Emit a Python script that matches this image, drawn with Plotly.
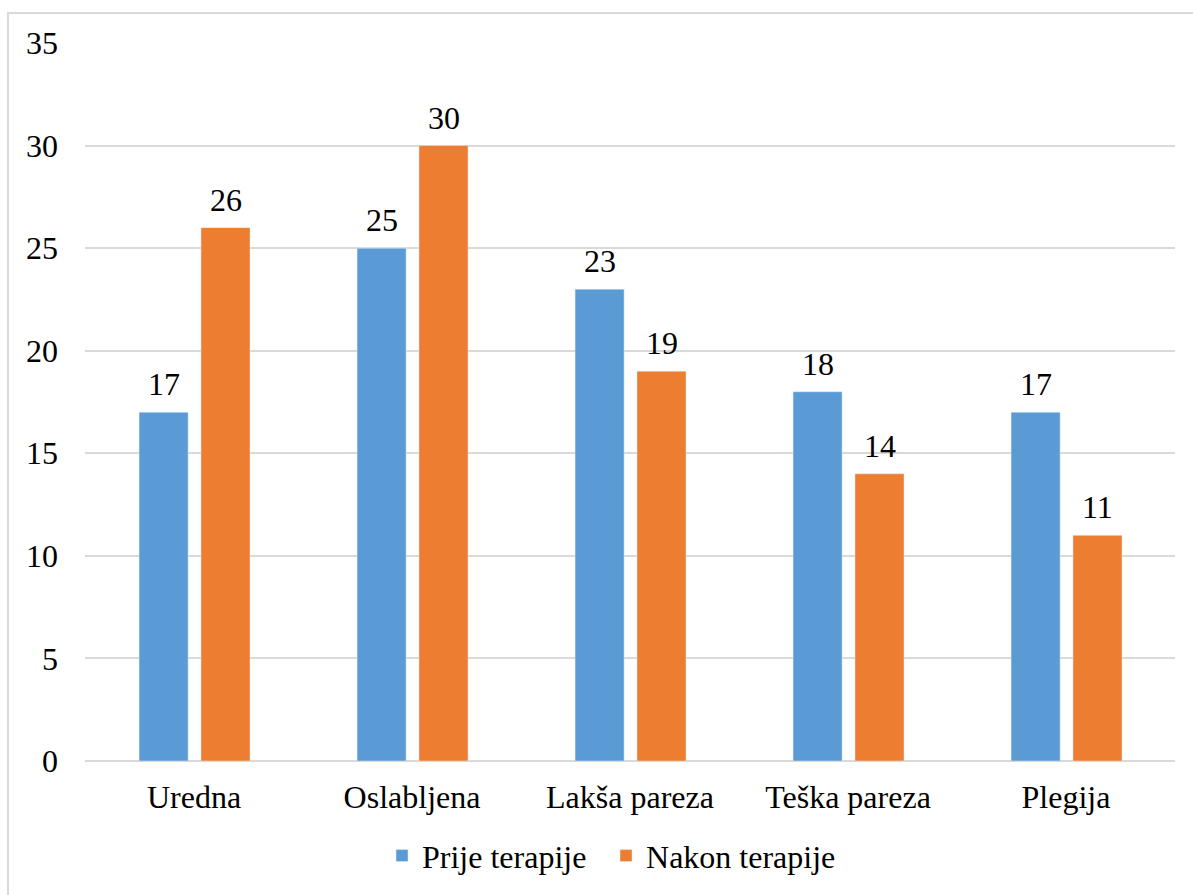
import plotly.graph_objects as go

categories = ["Uredna", "Oslabljena", "Lakša pareza", "Teška pareza", "Plegija"]
prije = [17, 25, 23, 18, 17]
nakon = [26, 30, 19, 14, 11]

font_family = "Liberation Serif, Times New Roman, serif"
font_size = 32
black_font = dict(family=font_family, size=font_size, color="#000000")

bar_width = 0.225
offsets = {"prije": -0.252, "nakon": 0.032}
cat_px = 1090 / len(categories)  # pixel width of one category

fig = go.Figure()

fig.add_trace(go.Bar(
    x=categories, y=prije, name="Prije terapije",
    marker_color="#5B9BD5", width=bar_width, offset=offsets["prije"],
    legend="legend",
))
fig.add_trace(go.Bar(
    x=categories, y=nakon, name="Nakon terapije",
    marker_color="#ED7D31", width=bar_width, offset=offsets["nakon"],
    legend="legend2",
))

# data labels, a bit higher above the bars than plotly's default
for series, key in ((prije, "prije"), (nakon, "nakon")):
    shift = (offsets[key] + bar_width / 2) * cat_px
    for cat, val in zip(categories, series):
        fig.add_annotation(x=cat, y=val, text=str(val), showarrow=False,
                           xshift=shift, yshift=8, yanchor="bottom",
                           font=black_font)

# light grey chart border, partly cropped off the right and bottom
fig.add_shape(type="rect", xref="paper", yref="paper",
              x0=-0.0706, x1=1.2, y0=-0.5, y1=1.0417,
              line=dict(color="#D9D9D9", width=2), layer="below")

legend_common = dict(orientation="h", xanchor="left", y=-0.132,
                     yanchor="middle", font=black_font, itemwidth=30)

fig.update_layout(
    width=1193, height=895,
    margin=dict(l=85, r=18, t=43, b=132),
    plot_bgcolor="white", paper_bgcolor="white",
    font=black_font,
    barmode="group",
    showlegend=True,
    legend=dict(x=0.2725, **legend_common),
    legend2=dict(x=0.478, **legend_common),
    xaxis=dict(showgrid=False, showline=False, ticks="", ticklabelstandoff=14,
               tickfont=black_font),
    yaxis=dict(range=[0, 35], dtick=5, showgrid=True, gridcolor="#D9D9D9",
               gridwidth=1.5, zeroline=True, zerolinecolor="#D9D9D9",
               zerolinewidth=1.5, showline=False, ticks="",
               ticklabelstandoff=26, tickfont=black_font),
)

fig.write_html("out.html", config={"displayModeBar": False},
               post_script="document.body.style.margin='0';")
